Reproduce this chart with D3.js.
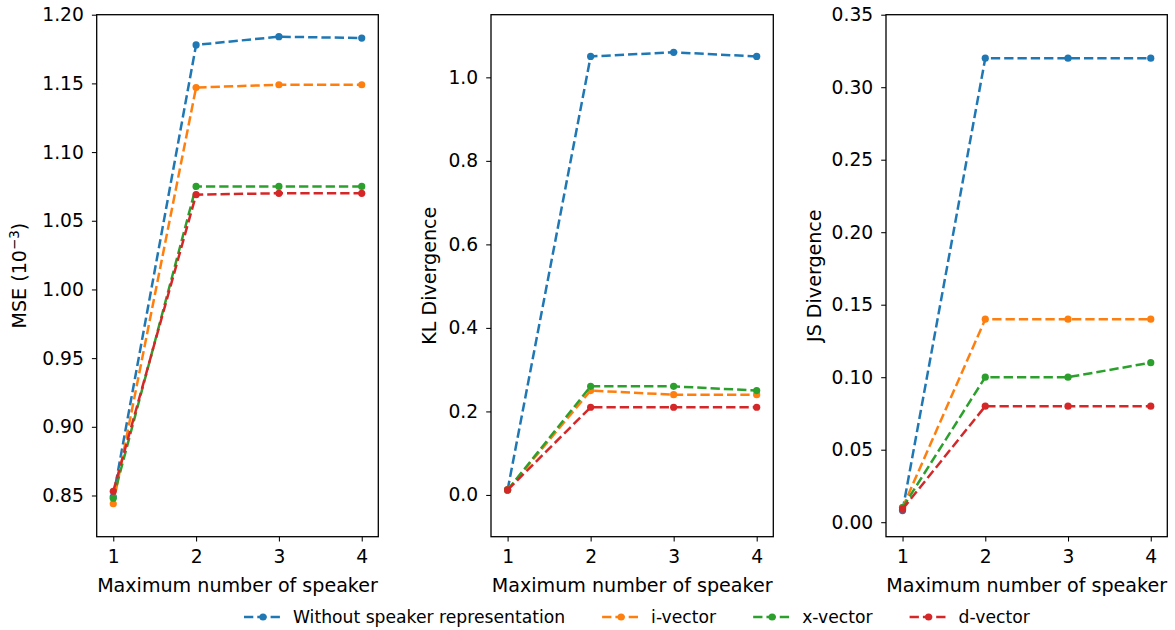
<!DOCTYPE html>
<html>
<head>
<meta charset="utf-8">
<script src="https://cdn.jsdelivr.net/npm/d3@7"></script>
<style>
  body { margin: 0; background: #fff; }
  svg text { font-family: "DejaVu Sans", sans-serif; fill: #000; }
</style>
</head>
<body>
<svg id="chart" width="1175" height="630"></svg>
<script>
const xValues = [1, 2, 3, 4];
const seriesNames = ["Without speaker representation", "i-vector", "x-vector", "d-vector"];
const seriesColors = ["#1f77b4", "#ff7f0e", "#2ca02c", "#d62728"];

const mseWithout = [0.849, 1.178, 1.184, 1.183];
const mseIvector = [0.844, 1.147, 1.149, 1.149];
const mseXvector = [0.848, 1.075, 1.075, 1.075];
const mseDvector = [0.853, 1.069, 1.070, 1.070];

const klWithout = [0.012, 1.05, 1.06, 1.05];
const klIvector = [0.012, 0.25, 0.24, 0.24];
const klXvector = [0.012, 0.26, 0.26, 0.25];
const klDvector = [0.012, 0.21, 0.21, 0.21];

const jsWithout = [0.008, 0.32, 0.32, 0.32];
const jsIvector = [0.010, 0.14, 0.14, 0.14];
const jsXvector = [0.010, 0.10, 0.10, 0.11];
const jsDvector = [0.009, 0.08, 0.08, 0.08];

const mseTicks = [0.85, 0.90, 0.95, 1.00, 1.05, 1.10, 1.15, 1.20];
const klTicks = [0.0, 0.2, 0.4, 0.6, 0.8, 1.0];
const jsTicks = [0.00, 0.05, 0.10, 0.15, 0.20, 0.25, 0.30, 0.35];
const xLabel = "Maximum number of speaker";

const panels = [
  { left: 96.7, right: 378.3, yDomain: [0.82, 1.2], ticks: mseTicks, fmt: d3.format(".2f"),
    series: [mseWithout, mseIvector, mseXvector, mseDvector], ylabel: "MSE", labelX: 26 },
  { left: 491, right: 773.3, yDomain: [-0.1, 1.15], ticks: klTicks, fmt: d3.format(".1f"),
    series: [klWithout, klIvector, klXvector, klDvector], ylabel: "KL Divergence", labelX: 436 },
  { left: 886, right: 1167.3, yDomain: [-0.01, 0.35], ticks: jsTicks, fmt: d3.format(".2f"),
    series: [jsWithout, jsIvector, jsXvector, jsDvector], ylabel: "JS Divergence", labelX: 821 }
];

const plotTop = 14.7, plotBottom = 536.7;
const tickFont = 18.7;
const labelFont = 19.1;
const lw = 2.5;
const dash = "9.3,4";
const svg = d3.select("#chart");

panels.forEach(p => {
  const x = d3.scaleLinear().domain([0.8, 4.2]).range([p.left, p.right]);
  const y = d3.scaleLinear().domain(p.yDomain).range([plotBottom, plotTop]);
  const g = svg.append("g");

  p.series.forEach((vals, i) => {
    const pts = xValues.map((xv, j) => [xv, vals[j]]);
    g.append("path")
      .datum(pts)
      .attr("fill", "none")
      .attr("stroke", seriesColors[i])
      .attr("stroke-width", lw)
      .attr("stroke-dasharray", dash)
      .attr("d", d3.line().x(d => x(d[0])).y(d => y(d[1])));
    g.selectAll(null).data(pts).enter().append("circle")
      .attr("cx", d => x(d[0])).attr("cy", d => y(d[1]))
      .attr("r", 3.6).attr("fill", seriesColors[i]);
  });

  const xAxis = d3.axisBottom(x).tickValues(xValues).tickFormat(d3.format("d")).tickSize(4.8).tickPadding(8);
  const yAxis = d3.axisLeft(y).tickValues(p.ticks).tickFormat(p.fmt).tickSize(4.8).tickPadding(8);
  const gx = g.append("g").attr("transform", `translate(0,${plotBottom})`).call(xAxis);
  const gy = g.append("g").attr("transform", `translate(${p.left},0)`).call(yAxis);
  [gx, gy].forEach(a => {
    a.select(".domain").remove();
    a.selectAll(".tick line").attr("stroke", "#000").attr("stroke-width", 1.05);
    a.selectAll(".tick text").attr("font-size", tickFont).attr("font-family", "DejaVu Sans").attr("fill", "#000");
  });

  g.append("rect").attr("x", p.left).attr("y", plotTop)
    .attr("width", p.right - p.left).attr("height", plotBottom - plotTop)
    .attr("fill", "none").attr("stroke", "#000").attr("stroke-width", 1.3);

  g.append("text").attr("x", (p.left + p.right) / 2).attr("y", 591.5)
    .attr("text-anchor", "middle").attr("font-size", labelFont).text(xLabel);

  const yl = g.append("text")
    .attr("transform", `translate(${p.labelX},${(plotTop + plotBottom) / 2}) rotate(-90)`)
    .attr("text-anchor", "middle").attr("font-size", labelFont);
  if (p.ylabel === "MSE") {
    yl.append("tspan").text("MSE (10");
    yl.append("tspan").attr("dy", -7).attr("font-size", labelFont * 0.7).text("\u22123");
    yl.append("tspan").attr("dy", 7).text(")");
  } else {
    yl.text(p.ylabel);
  }
});

const legFont = 17.2;
const legY = 617;
let cx = 244;
seriesNames.forEach((name, i) => {
  const lg = svg.append("g");
  lg.append("line").attr("x1", cx).attr("x2", cx + 36).attr("y1", legY).attr("y2", legY)
    .attr("stroke", seriesColors[i]).attr("stroke-width", lw).attr("stroke-dasharray", dash);
  lg.append("circle").attr("cx", cx + 19).attr("cy", legY).attr("r", 3.6).attr("fill", seriesColors[i]);
  const t = lg.append("text").attr("x", cx + 49).attr("y", legY + 6).attr("font-size", legFont).text(name);
  const w = t.node().getComputedTextLength();
  cx = cx + 49 + w + 37;
});
</script>
</body>
</html>
